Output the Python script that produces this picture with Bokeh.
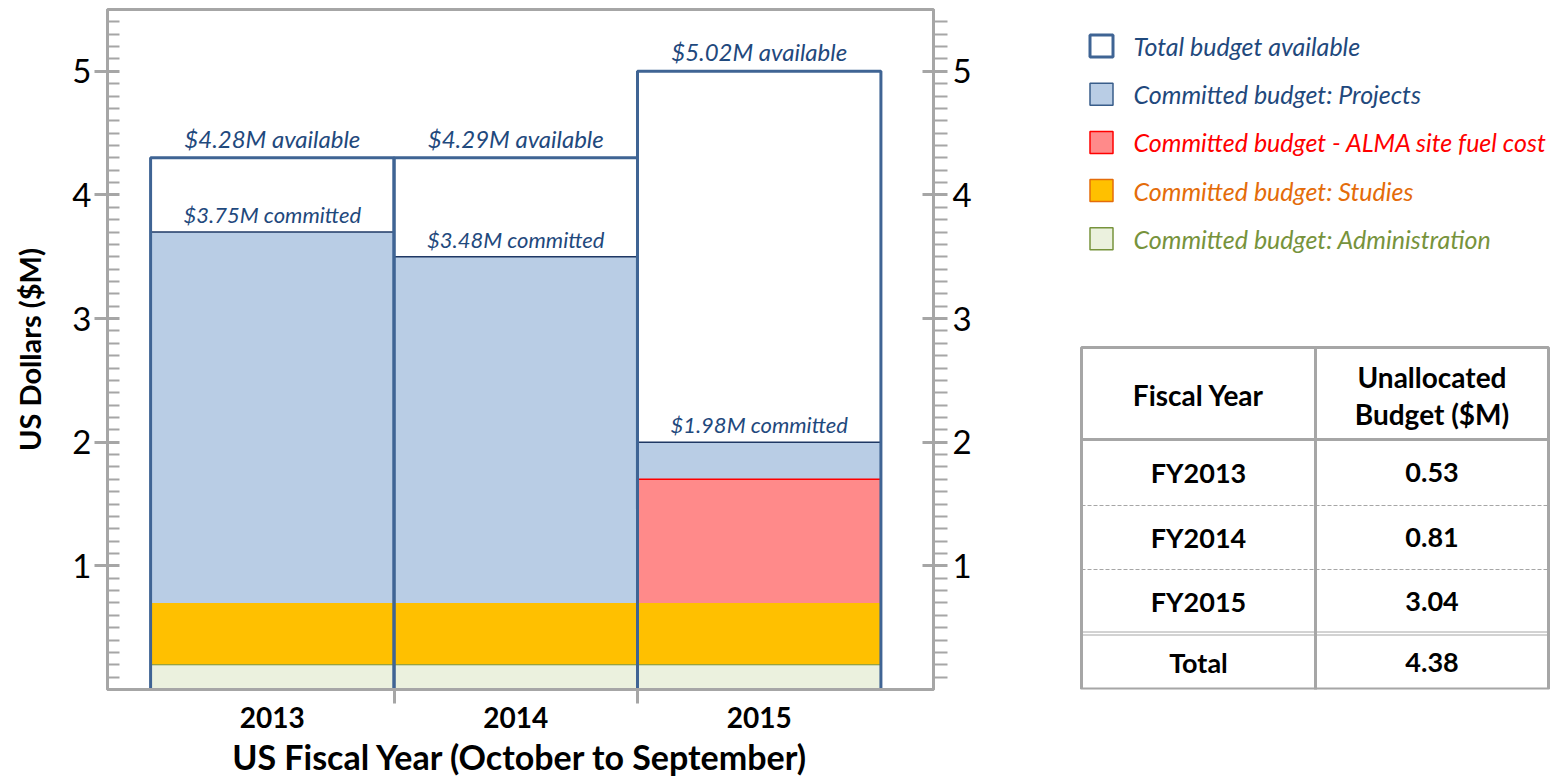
import numpy as np
from bokeh.plotting import figure
from bokeh.models import Range1d, LinearAxis, FixedTicker, CustomJSTickFormatter
from bokeh.layouts import row
from bokeh.core.properties import value
from bokeh.embed import file_html
from bokeh.resources import INLINE

# ---------------- data ----------------
years = ["2013", "2014", "2015"]
admin = [0.2, 0.2, 0.2]
studies = [0.5, 0.5, 0.5]
fuel = [0.0, 0.0, 1.0]
projects = [3.0, 2.8, 0.3]
total_avail = [4.3, 4.3, 5.0]
avail_labels = ["$4.28M available", "$4.29M available", "$5.02M available"]
committed_labels = ["$3.75M committed", "$3.48M committed", "$1.98M committed"]

y_ticks = [1, 2, 3, 4, 5]

legend_labels = ["Total budget available", "Committed budget: Projects",
                 "Committed budget - ALMA site fuel cost", "Committed budget: Studies",
                 "Committed budget: Administration"]
legend_fill = ["#FFFFFF", "#B9CDE5", "#FF8A8A", "#FFC000", "#EBF1DE"]
legend_line = ["#3F6494", "#385D8A", "#FF0000", "#E46C0A", "#77933C"]
legend_line_w = [3, 1.5, 1.5, 1.5, 1.5]
legend_text_col = ["#1F497D", "#1F497D", "#FF0000", "#E46C0A", "#77933C"]

table_header = ["Fiscal Year", "Unallocated", "Budget ($M)"]
table_years = ["FY2013", "FY2014", "FY2015"]
table_unalloc = [0.53, 0.81, 3.04]
table_total_label = "Total"
table_total = 4.38

# ---------------- style ----------------
GRAY = "#A6A6A6"
FONT = value("Lato")
TXT_BLUE = "#1F497D"
H = 779
TOP = 9          # frame top (px)
BOTTOM_BORDER = 90
FRAME_BOTTOM = H - BOTTOM_BORDER

# ---------------- main chart ----------------
idx = np.arange(len(years))
xc = idx + 0.5
a = np.array(admin)
s = np.array(studies)
f = np.array(fuel)
pj = np.array(projects)
t_admin = a
t_studies = a + s
t_fuel = t_studies + f
t_proj = t_fuel + pj

p = figure(width=1070, height=H, x_range=Range1d(-0.177, 3.216), y_range=Range1d(0, 5.5),
           output_backend="svg", toolbar_location=None,
           min_border_left=107, min_border_right=137, min_border_top=TOP,
           min_border_bottom=BOTTOM_BORDER)
p.background_fill_color = "white"
p.border_fill_color = "white"
p.outline_line_color = GRAY
p.outline_line_width = 3
p.xgrid.visible = False
p.ygrid.visible = False

p.vbar(x=xc, width=1, bottom=0, top=t_admin, fill_color="#EBF1DE", line_color=None)
p.vbar(x=xc, width=1, bottom=t_admin, top=t_studies, fill_color="#FFC000", line_color=None)
p.vbar(x=xc, width=1, bottom=t_studies, top=t_fuel, fill_color="#FF8A8A", line_color=None)
p.vbar(x=xc, width=1, bottom=t_fuel, top=t_proj, fill_color="#B9CDE5", line_color=None)

# thin top edges
p.segment(x0=xc - 0.5, x1=xc + 0.5, y0=t_admin, y1=t_admin, line_color="#77933C", line_width=1)
fm = f > 0
p.segment(x0=(xc - 0.5)[fm], x1=(xc + 0.5)[fm], y0=t_fuel[fm], y1=t_fuel[fm],
          line_color="#FF0000", line_width=1.5)
p.segment(x0=xc - 0.5, x1=xc + 0.5, y0=t_proj, y1=t_proj, line_color="#1F3864", line_width=1.5)

# total available outline
p.vbar(x=xc, width=1, bottom=-0.3, top=total_avail, fill_color=None,
       line_color="#3F6494", line_width=3)

p.text(x=xc, y=total_avail, text=avail_labels, text_align="center", text_baseline="bottom",
       y_offset=-5, text_font=FONT, text_font_style="italic", text_font_size="24px",
       text_color=TXT_BLUE)
p.text(x=xc, y=t_proj, text=committed_labels, text_align="center", text_baseline="bottom",
       y_offset=-4, text_font=FONT, text_font_style="italic", text_font_size="22px",
       text_color=TXT_BLUE)

minor_y = [round(0.1 * i, 1) for i in range(1, 55) if i % 10 != 0]

# left axis
ya = p.yaxis[0]
ya.ticker = FixedTicker(ticks=y_ticks, minor_ticks=minor_y)
ya.axis_line_color = GRAY
ya.axis_line_width = 3
ya.major_tick_line_color = GRAY
ya.major_tick_line_width = 3
ya.major_tick_in = 12
ya.major_tick_out = 13
ya.minor_tick_line_color = GRAY
ya.minor_tick_line_width = 2
ya.minor_tick_in = 12
ya.minor_tick_out = 0
ya.major_label_text_font = "Lato"
ya.major_label_text_font_size = "33px"
ya.major_label_text_color = "black"
ya.major_label_standoff = 3
ya.axis_label = "US Dollars ($M)"
ya.axis_label_text_font = "Lato"
ya.axis_label_text_font_style = "bold"
ya.axis_label_text_font_size = "29px"
ya.axis_label_text_color = "black"
ya.axis_label_standoff = 22

# right axis
ra = LinearAxis(ticker=FixedTicker(ticks=y_ticks, minor_ticks=minor_y))
ra.axis_line_color = GRAY
ra.axis_line_width = 3
ra.major_tick_line_color = GRAY
ra.major_tick_line_width = 3
ra.major_tick_in = 11
ra.major_tick_out = 14
ra.minor_tick_line_color = GRAY
ra.minor_tick_line_width = 2
ra.minor_tick_in = 0
ra.minor_tick_out = 14
ra.major_label_text_font = "Lato"
ra.major_label_text_font_size = "33px"
ra.major_label_text_color = "black"
ra.major_label_standoff = 5
p.add_layout(ra, "right")

# bottom axis
xa = p.xaxis[0]
xa.ticker = FixedTicker(ticks=list(xc), minor_ticks=list(idx[1:].astype(float)))
xa.formatter = CustomJSTickFormatter(args=dict(labels=years),
                                     code="return labels[Math.floor(tick)] || '';")
xa.axis_line_color = GRAY
xa.axis_line_width = 3
xa.major_tick_line_color = None
xa.major_tick_in = 0
xa.major_tick_out = 0
xa.minor_tick_line_color = GRAY
xa.minor_tick_line_width = 3
xa.minor_tick_in = 0
xa.minor_tick_out = 14
xa.major_label_text_font = "Lato"
xa.major_label_text_font_style = "bold"
xa.major_label_text_font_size = "28px"
xa.major_label_text_color = "black"
xa.major_label_standoff = 3
xa.axis_label = "US Fiscal Year (October to September)"
xa.axis_label_text_font = "Lato"
xa.axis_label_text_font_style = "bold"
xa.axis_label_text_font_size = "34px"
xa.axis_label_text_color = "black"
xa.axis_label_standoff = 5

# ---------------- side panel: legend + table ----------------
# The row layout aligns this panel's frame with the chart's frame (TOP..FRAME_BOTTOM),
# so the y range is expressed in the same pixel rows as the page.
X0, X1 = 1070, 1565
q = figure(width=X1 - X0, height=H, x_range=Range1d(X0, X1),
           y_range=Range1d(FRAME_BOTTOM, TOP),
           output_backend="svg", toolbar_location=None, x_axis_type=None, y_axis_type=None,
           min_border=0, min_border_left=0, min_border_right=0, min_border_top=TOP,
           min_border_bottom=BOTTOM_BORDER)
q.outline_line_color = None
q.xgrid.visible = False
q.ygrid.visible = False
q.background_fill_color = "white"
q.border_fill_color = "white"

n = len(legend_labels)
ly = 45.5 + 48.2 * np.arange(n)
q.rect(x=[1101] * n, y=ly, width=23, height=22, fill_color=legend_fill,
       line_color=legend_line, line_width=legend_line_w)
q.text(x=[1133] * n, y=ly, text=legend_labels, text_color=legend_text_col,
       text_baseline="middle", text_align="left", text_font=FONT,
       text_font_style="italic", text_font_size="25px")

# table geometry
tl, tm, tr = 1081, 1315, 1548
row_edges = [347, 439, 505, 569, 633, 690]
cx1 = (tl + tm) / 2
cx2 = (tm + tr) / 2

q.segment(x0=[tl], x1=[tr], y0=[row_edges[1]], y1=[row_edges[1]],
          line_color=GRAY, line_width=3)
q.segment(x0=[tl, tl], x1=[tr, tr], y0=row_edges[2:4], y1=row_edges[2:4],
          line_color=GRAY, line_width=1, line_dash="4 2")
q.segment(x0=[tl, tl], x1=[tr, tr], y0=[row_edges[4] - 1.5, row_edges[4] + 1.5],
          y1=[row_edges[4] - 1.5, row_edges[4] + 1.5], line_color=GRAY, line_width=1)
q.segment(x0=[tm], x1=[tm], y0=[row_edges[0]], y1=[row_edges[-1]], line_color=GRAY, line_width=3)
q.quad(left=[tl], right=[tr], top=[row_edges[0]], bottom=[row_edges[-1] - 1.5], fill_color=None,
       line_color=GRAY, line_width=3)

hfont = dict(text_font=FONT, text_font_style="bold", text_font_size="28px",
             text_color="black", text_align="center", text_baseline="middle")
tfont = dict(hfont, text_font_size="27px")
q.text(x=[cx1], y=[(row_edges[0] + row_edges[1]) / 2 + 1], text=[table_header[0]], **hfont)
q.text(x=[cx2, cx2], y=[376, 413], text=table_header[1:], **hfont)
rc = [(row_edges[i] + row_edges[i + 1]) / 2 for i in range(1, 5)]
col1 = table_years + [table_total_label]
col2 = ["%.2f" % v for v in table_unalloc] + ["%.2f" % table_total]
q.text(x=[cx1] * 4, y=rc, text=col1, **tfont)
q.text(x=[cx2] * 4, y=rc, text=col2, **tfont)

layout = row(p, q)
open("out.html", "w").write(file_html(layout, INLINE))
